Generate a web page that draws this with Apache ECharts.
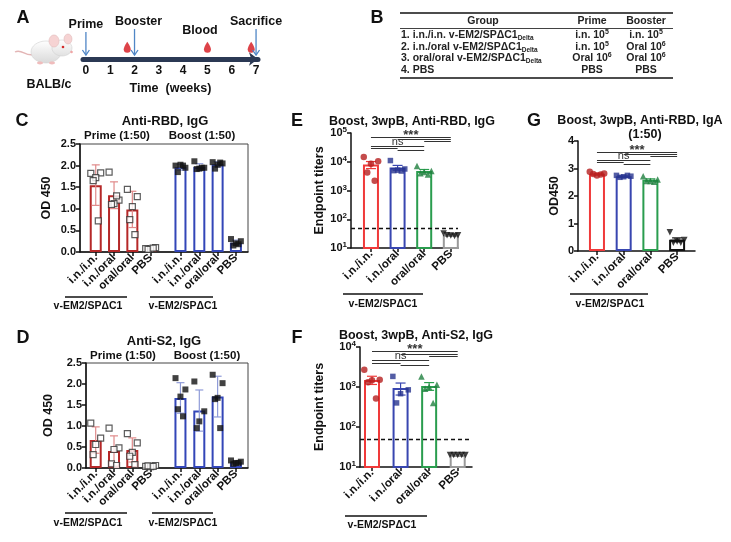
<!DOCTYPE html>
<html>
<head>
<meta charset="utf-8">
<script src="https://cdn.jsdelivr.net/npm/echarts@6/dist/echarts.min.js"></script>
<style>
html,body{margin:0;padding:0;background:#fff}
#main{width:731px;height:542px}
</style>
</head>
<body>
<div id="main"></div>
<script>
var FONT = 'Liberation Sans, Arial, sans-serif';
var INK = '#111';

// ---------- data ----------
var groupNames = ['i.n./i.n.', 'i.n./oral', 'oral/oral', 'PBS'];
var vaccineName = 'v-EM2/SP\u0394C1';

// A: schedule
var weekTicks = [0, 1, 2, 3, 4, 5, 6, 7];
var eventNames = ['Prime', 'Booster', 'Sacrifice'];
var eventWeeks = [0, 2, 7];
var bloodWeeks = [1.7, 5, 6.8];

// B: table
var tableHeader = ['Group', 'Prime', 'Booster'];
var tableGroups = ['1. i.n./i.n. v-EM2/SP\u0394C1{sub|Delta}', '2. i.n./oral v-EM2/SP\u0394C1{sub|Delta}',
                   '3. oral/oral v-EM2/SP\u0394C1{sub|Delta}', '4. PBS'];
var tablePrime = ['i.n. 10{sup|5}', 'i.n. 10{sup|5}', 'Oral 10{sup|6}', 'PBS'];
var tableBooster = ['i.n. 10{sup|5}', 'Oral 10{sup|6}', 'Oral 10{sup|6}', 'PBS'];

// C: Anti-RBD IgG, OD450 per mouse
var cPrime = [
    [1.82, 1.83, 1.72, 1.65, 0.72],
    [1.85, 1.2, 1.12, 1.1, 1.3],
    [1.45, 1.28, 1.05, 0.75, 0.4],
    [0.08, 0.1, 0.07, 0.06, 0.09]
];
var cBoost = [
    [2.0, 1.95, 2.02, 1.85, 2.0],
    [2.1, 1.95, 1.93, 1.92, 1.95],
    [2.08, 2.05, 2.02, 1.93, 2.07],
    [0.3, 0.25, 0.2, 0.15, 0.18]
];
// D: Anti-S2 IgG, OD450 per mouse
var dPrime = [
    [1.07, 0.71, 0.56, 0.32],
    [0.95, 0.48, 0.44, 0.1, 0.06],
    [0.82, 0.6, 0.37, 0.28, 0.08],
    [0.04, 0.06, 0.03, 0.05, 0.04]
];
var dBoost = [
    [2.14, 1.87, 1.7, 1.4, 1.23],
    [2.06, 1.35, 1.11, 0.95],
    [2.22, 2.02, 1.67, 1.64, 0.95],
    [0.18, 0.15, 0.12, 0.1, 0.12]
];
// E: Anti-RBD IgG endpoint titers
var eTiters = [
    [14500, 10500, 8500, 4200, 2200],
    [11000, 5600, 5100, 4900, 4750],
    [7100, 4750, 4400, 4000, 3600],
    [32, 28, 27, 28, 26]
];
// F: Anti-S2 IgG endpoint titers
var fTiters = [
    [2700, 1520, 1480, 1320, 513],
    [1840, 850, 680, 400],
    [1840, 1140, 1000, 910, 400],
    [20, 20, 20, 20, 20]
];
// G: Anti-RBD IgA OD450
var gOD = [
    [2.88, 2.82, 2.75, 2.8, 2.78],
    [2.75, 2.72, 2.7, 2.68, 2.75],
    [2.72, 2.6, 2.55, 2.55, 2.52],
    [0.68, 0.4, 0.35, 0.3, 0.3]
];
var limitOfDetection = 50;
var sigPairs = [[0, 3], [1, 3], [2, 3], [0, 2], [0, 1], [1, 2]];
var sigLabels = ['***', '', '', 'ns', '', ''];

// ---------- layout ----------
var posC = [0, 1, 2, 3, 4.63, 5.66, 6.66, 7.66];
var pos4 = [0, 1, 2, 3];
var JITTER = [-0.27, 0.27, 0, -0.14, 0.14];

function mean(a) { return a.reduce(function (s, v) { return s + v; }, 0) / a.length; }
function sd(a) {
    var m = mean(a);
    return Math.sqrt(a.reduce(function (s, v) { return s + (v - m) * (v - m); }, 0) / (a.length - 1));
}

var myChart = echarts.init(document.getElementById('main'));

var grids = [
    {left: 83, top: 20, width: 175, height: 39},     // A timeline
    {left: 80, top: 144, width: 168, height: 108, show: true, borderColor: '#444', borderWidth: 1},  // C
    {left: 86, top: 363, width: 162, height: 105, show: true, borderColor: '#444', borderWidth: 1},  // D
    {left: 351, top: 133, width: 107, height: 115},  // E
    {left: 360, top: 347, width: 112, height: 120},  // F
    {left: 578, top: 141, width: 117, height: 110}   // G
];

var labelFont = {fontFamily: FONT, fontWeight: 'bold', color: INK};

function catAxis(gi, min, max, pos, names) {
    return {
        type: 'value', gridIndex: gi, min: min, max: max,
        axisLine: {show: true, onZero: false, lineStyle: {color: INK, width: 1.5}},
        axisTick: {show: true, customValues: pos, length: 4, lineStyle: {color: INK, width: 1.5}},
        axisLabel: Object.assign({
            customValues: pos, rotate: 45, fontSize: 11.5, margin: 4,
            formatter: function (v) {
                var best = 0;
                pos.forEach(function (p, i) { if (Math.abs(p - v) < Math.abs(pos[best] - v)) best = i; });
                return names[best];
            }
        }, labelFont),
        splitLine: {show: false}
    };
}
function odAxis(gi, max, name, gap) {
    return {
        type: 'value', gridIndex: gi, min: 0, max: max, interval: max === 4 ? 1 : 0.5,
        name: name, nameLocation: 'middle', nameGap: gap,
        nameTextStyle: Object.assign({fontSize: 12.5}, labelFont),
        axisLine: {show: true, onZero: false, lineStyle: {color: INK, width: 1.5}},
        axisTick: {show: true, length: 4, lineStyle: {color: INK, width: 1.5}},
        axisLabel: Object.assign({fontSize: 11, margin: 4,
            formatter: function (v) { return max === 4 ? String(v) : v.toFixed(1); }}, labelFont),
        splitLine: {show: false}
    };
}
function logAxis(gi, max, gap) {
    return {
        type: 'log', logBase: 10, gridIndex: gi, min: 10, max: max,
        name: 'Endpoint titers', nameLocation: 'middle', nameGap: gap,
        nameTextStyle: Object.assign({fontSize: 12.5}, labelFont),
        axisLine: {show: true, onZero: false, lineStyle: {color: INK, width: 1.5}},
        axisTick: {show: true, length: 4, lineStyle: {color: INK, width: 1.5}},
        minorTick: {show: false},
        axisLabel: {
            margin: 4,
            formatter: function (v) { return '{b|10}{s|' + Math.round(Math.log10(v)) + '}'; },
            rich: {
                b: {fontFamily: FONT, fontWeight: 'bold', fontSize: 11, color: INK, lineHeight: 14},
                s: {fontFamily: FONT, fontWeight: 'bold', fontSize: 8, color: INK, verticalAlign: 'top'}
            }
        },
        splitLine: {show: false}
    };
}

var xAxes = [
    {
        type: 'value', gridIndex: 0, min: -0.12, max: 7.08,
        name: 'Time  (weeks)', nameLocation: 'middle', nameGap: 23,
        nameTextStyle: Object.assign({fontSize: 12.5}, labelFont),
        axisLine: {show: true, onZero: false, lineStyle: {color: '#2b3954', width: 5}, symbol: ['none', 'arrow'], symbolSize: [10, 9]},
        axisTick: {show: false},
        axisLabel: Object.assign({customValues: weekTicks, fontSize: 12, margin: 6}, labelFont),
        splitLine: {show: false}
    },
    catAxis(1, -0.86, 8.32, posC, groupNames.concat(groupNames)),
    catAxis(2, -0.53, 8.32, posC, groupNames.concat(groupNames)),
    catAxis(3, -0.75, 3.27, pos4, groupNames),
    catAxis(4, -0.42, 3.5, pos4, groupNames),
    catAxis(5, -0.71, 3.67, pos4, groupNames)
];
var yAxes = [
    {type: 'value', gridIndex: 0, min: 0, max: 1, show: false},
    odAxis(1, 2.5, 'OD 450', 27),
    odAxis(2, 2.5, 'OD 450', 31),
    logAxis(3, 100000, 24),
    logAxis(4, 10000, 34),
    odAxis(5, 4, 'OD450', 17)
];

var series = [];

function addPanel(ax, pos, groups, cfg) {
    series.push({
        type: 'bar', xAxisIndex: ax, yAxisIndex: ax, barWidth: cfg.barWidth, clip: true, z: 2,
        data: groups.map(function (g, i) {
            return {value: [pos[i], mean(g)], itemStyle: {color: '#fff', borderColor: cfg.barColors[i], borderWidth: 2}};
        }),
        markLine: cfg.lod ? {
            silent: true, symbol: 'none', label: {show: false},
            lineStyle: {color: INK, type: [4, 3], width: 1.3},
            data: [{yAxis: cfg.lod}]
        } : undefined
    });
    series.push({
        type: 'custom', xAxisIndex: ax, yAxisIndex: ax, z: 3,
        renderItem: function (params, api) {
            var x = api.value(0), top = api.coord([x, api.value(3)]), bot = api.coord([x, api.value(2)]);
            var c = api.visual('color'), w = cfg.cap;
            var st = {stroke: c, lineWidth: 1.2};
            return {type: 'group', children: [
                {type: 'line', shape: {x1: top[0], y1: top[1], x2: bot[0], y2: bot[1]}, style: st},
                {type: 'line', shape: {x1: top[0] - w, y1: top[1], x2: top[0] + w, y2: top[1]}, style: st},
                {type: 'line', shape: {x1: bot[0] - w, y1: bot[1], x2: bot[0] + w, y2: bot[1]}, style: st}
            ]};
        },
        data: groups.map(function (g, i) {
            var m = mean(g), e = cfg.sem ? sd(g) / Math.sqrt(g.length) : sd(g);
            return {value: [pos[i], m, m - e, m + e], itemStyle: {color: cfg.errColors[i]}};
        })
    });
    var pts = [];
    groups.forEach(function (g, i) {
        var p = cfg.points(i);
        g.forEach(function (v, k) {
            pts.push({
                value: [pos[i] + JITTER[k % JITTER.length], v],
                symbol: p.symbol, symbolRotate: p.rotate || 0, symbolSize: p.size,
                itemStyle: {color: p.fill, borderColor: p.stroke, borderWidth: p.stroke ? 1.2 : 0}
            });
        });
    });
    series.push({type: 'scatter', xAxisIndex: ax, yAxisIndex: ax, z: 4, data: pts});
    if (cfg.sig) {
        series.push({
            type: 'custom', xAxisIndex: ax, yAxisIndex: ax, z: 5,
            renderItem: function (params, api) {
                var k = api.value(3);
                var x1 = api.coord([api.value(0), cfg.yTop])[0], x2 = api.coord([api.value(2), cfg.yTop])[0];
                var y = Math.round(params.coordSys.y + cfg.sig[k]) + 0.5;
                var kids = [{type: 'line', shape: {x1: x1, y1: y, x2: x2, y2: y}, style: {stroke: '#333', lineWidth: 1}}];
                if (sigLabels[k]) {
                    kids.push({type: 'text', x: (x1 + x2) / 2, y: y + (sigLabels[k] === 'ns' ? 0.5 : 4),
                        style: {text: sigLabels[k], fontFamily: FONT, fontSize: sigLabels[k] === 'ns' ? 11 : 13,
                            fontWeight: sigLabels[k] === 'ns' ? 'normal' : 'bold', fill: '#333',
                            align: 'center', verticalAlign: 'bottom'}});
                }
                return {type: 'group', children: kids};
            },
            data: sigPairs.map(function (p, k) { return [pos[p[0]], cfg.yTop, pos[p[1]], k]; })
        });
    }
}

var odBarColors = ['#b52828', '#b52828', '#b52828', '#b52828', '#3346b8', '#3346b8', '#3346b8', '#3346b8'];
var odErrColors = ['#e08a8a', '#e08a8a', '#e08a8a', '#e08a8a', '#8f9bd8', '#8f9bd8', '#8f9bd8', '#8f9bd8'];
function odPoints(i) {
    return i < 4 ? {symbol: 'rect', size: 6, fill: '#fff', stroke: '#333'}
                 : {symbol: 'rect', size: 6, fill: INK};
}
var tBarColors = ['#f03a3a', '#3846b0', '#2a9d4e', '#9a9a9a'];
var tPtColors = ['#b51f1f', '#28348f', '#1f7f3f', INK];
function tPoints(i) {
    var sym = ['circle', 'rect', 'triangle', 'triangle'][i];
    return {symbol: sym, rotate: i === 3 ? 180 : 0, size: i === 1 ? 5.5 : 6.5, fill: tPtColors[i]};
}

addPanel(1, posC, cPrime.concat(cBoost), {barWidth: 12, cap: 4, barColors: odBarColors, errColors: odErrColors, points: odPoints});
addPanel(2, posC, dPrime.concat(dBoost), {barWidth: 12, cap: 4, barColors: odBarColors, errColors: odErrColors, points: odPoints});
addPanel(3, pos4, eTiters, {barWidth: 16, cap: 5, sem: true, barColors: tBarColors, errColors: tBarColors,
    points: tPoints, lod: limitOfDetection, yTop: 100000, sig: [4, 6, 8, 13, 15, 17]});
addPanel(4, pos4, fTiters, {barWidth: 16, cap: 5, sem: true, barColors: tBarColors, errColors: tBarColors,
    points: tPoints, lod: limitOfDetection, yTop: 10000, sig: [4, 6.5, 8.5, 12.5, 15.5, 17.5]});
addPanel(5, pos4, gOD, {barWidth: 16, cap: 5, sem: true, barColors: ['#f03a3a', '#3846b0', '#2a9d4e', INK],
    errColors: ['#f03a3a', '#3846b0', '#2a9d4e', INK], points: tPoints, yTop: 4, sig: [11, 13, 15, 19, 21, 23]});

// A: schedule arrows and blood drops
series.push({
    type: 'custom', xAxisIndex: 0, yAxisIndex: 0, z: 5,
    renderItem: function (params, api) {
        var x = api.coord([api.value(0), 0])[0], i = api.value(1);
        var yTop = params.coordSys.y + (i === 0 ? 12 : 9), yBot = params.coordSys.y + 35;
        var c = '#4f86c6';
        return {type: 'group', children: [
            {type: 'line', shape: {x1: x, y1: yTop, x2: x, y2: yBot}, style: {stroke: c, lineWidth: 1.3}},
            {type: 'polyline', shape: {points: [[x - 3.5, yBot - 5], [x, yBot], [x + 3.5, yBot - 5]]}, style: {stroke: c, lineWidth: 1.3, fill: null}},
            {type: 'text', x: x + (i === 1 ? 4 : 0), y: yTop - 7,
                style: {text: eventNames[i], fontFamily: FONT, fontWeight: 'bold', fontSize: 12.5, fill: INK, align: 'center', verticalAlign: 'middle'}}
        ]};
    },
    data: eventWeeks.map(function (w, i) { return [w, i]; })
});
series.push({
    type: 'scatter', xAxisIndex: 0, yAxisIndex: 0, z: 4,
    symbol: 'path://M5,0 C5,0 0,7 0,10.5 A5,5 0 0 0 10,10.5 C10,7 5,0 5,0 Z',
    symbolSize: [7, 11],
    itemStyle: {color: '#d4141c'},
    data: bloodWeeks.map(function (w) { return [w, 0.3]; })
});

// ---------- texts, table, mouse ----------
function txt(x, y, s, size, extra) {
    return {type: 'text', x: x, y: y, z: 10, style: Object.assign({text: s, fontFamily: FONT, fontSize: size, fontWeight: 'bold',
        fill: INK, align: 'center', verticalAlign: 'middle'}, extra || {})};
}
function ln(x1, y1, x2, y2, w) {
    return {type: 'line', z: 10, shape: {x1: x1, y1: y1, x2: x2, y2: y2}, style: {stroke: INK, lineWidth: w || 1.5}};
}

var graphics = [
    txt(23, 18, 'A', 18), txt(377, 18, 'B', 18), txt(22, 121, 'C', 18), txt(23, 338, 'D', 18),
    txt(297, 121, 'E', 18), txt(297, 338, 'F', 18), txt(534, 121, 'G', 18),
    txt(49, 85, 'BALB/c', 12.5),
    txt(200, 31, 'Blood', 12.5),
    txt(165, 121, 'Anti-RBD, IgG', 13), txt(117, 136, 'Prime (1:50)', 11.5), txt(202, 136, 'Boost (1:50)', 11.5),
    txt(164, 341, 'Anti-S2, IgG', 13), txt(123, 356, 'Prime (1:50)', 11.5), txt(207, 356, 'Boost (1:50)', 11.5),
    txt(412, 122, 'Boost, 3wpB, Anti-RBD, IgG', 12.5),
    txt(416, 336, 'Boost, 3wpB, Anti-S2, IgG', 12.5),
    txt(640, 121, 'Boost, 3wpB, Anti-RBD, IgA', 12.5), txt(645, 135, '(1:50)', 12.5),
    // group brackets
    ln(65, 297, 127, 297), txt(88, 306, vaccineName, 10.5), ln(150, 297, 213, 297), txt(183, 306, vaccineName, 10.5),
    ln(65, 513, 127, 513), txt(88, 523, vaccineName, 10.5), ln(152, 513, 213, 513), txt(183, 523, vaccineName, 10.5),
    ln(343, 294, 423, 294), txt(383, 304, vaccineName, 10.5),
    ln(345, 516, 427, 516), txt(382, 525, vaccineName, 10.5),
    ln(570, 294, 648, 294), txt(610, 304, vaccineName, 10.5),
    // table rules
    ln(400, 13, 673, 13, 1.6), ln(400, 28.5, 673, 28.5, 0.8), ln(400, 78, 673, 78, 1.6)
];

var tableRich = {
    sub: {fontFamily: FONT, fontWeight: 'bold', fontSize: 6.5, fill: '#222', verticalAlign: 'bottom'},
    sup: {fontFamily: FONT, fontWeight: 'bold', fontSize: 7, fill: '#222', verticalAlign: 'top'}
};
function cell(x, y, s, align) {
    return {type: 'text', x: x, y: y, z: 10, style: {text: s, rich: tableRich, fontFamily: FONT, fontSize: 10.5, fontWeight: 'bold',
        lineHeight: 13, fill: '#222', align: align, verticalAlign: 'middle'}};
}
graphics.push(cell(483, 21, tableHeader[0], 'center'), cell(592, 21, tableHeader[1], 'center'), cell(646, 21, tableHeader[2], 'center'));
var rowY = [35, 47, 58.5, 70];
tableGroups.forEach(function (g, i) {
    graphics.push(cell(401, rowY[i], g, 'left'));
    graphics.push(cell(592, rowY[i], tablePrime[i], 'center'));
    graphics.push(cell(646, rowY[i], tableBooster[i], 'center'));
});

// simple white mouse
graphics.push({
    type: 'group', z: 10, children: [
        {type: 'bezierCurve', shape: {x1: 35, y1: 54, cpx1: 26, cpy1: 58, cpx2: 22, cpy2: 48, x2: 15, y2: 52},
            style: {stroke: '#e3b5b5', lineWidth: 1.4, fill: null}},
        {type: 'ellipse', shape: {cx: 46, cy: 52, rx: 15, ry: 11},
            style: {fill: new echarts.graphic.LinearGradient(0, 0, 0, 1, [{offset: 0, color: '#ffffff'}, {offset: 1, color: '#d9d9d9'}]),
                stroke: '#d0d0d0', lineWidth: 0.6}},
        {type: 'ellipse', shape: {cx: 62, cy: 48, rx: 10, ry: 8},
            style: {fill: new echarts.graphic.LinearGradient(0, 0, 0, 1, [{offset: 0, color: '#ffffff'}, {offset: 1, color: '#e0e0e0'}]),
                stroke: '#d0d0d0', lineWidth: 0.6}},
        {type: 'ellipse', shape: {cx: 54, cy: 41, rx: 5, ry: 6}, style: {fill: '#f6d3d3', stroke: '#e0bcbc', lineWidth: 0.6}},
        {type: 'ellipse', shape: {cx: 68, cy: 39, rx: 4, ry: 5}, style: {fill: '#f6d3d3', stroke: '#e0bcbc', lineWidth: 0.6}},
        {type: 'circle', shape: {cx: 63, cy: 47, r: 1.3}, style: {fill: '#d42a2a'}},
        {type: 'circle', shape: {cx: 71.5, cy: 52, r: 1.3}, style: {fill: '#f0a6a6'}},
        {type: 'ellipse', shape: {cx: 52, cy: 63, rx: 3, ry: 1.4}, style: {fill: '#f0bcbc'}},
        {type: 'ellipse', shape: {cx: 40, cy: 63, rx: 3, ry: 1.4}, style: {fill: '#f0bcbc'}}
    ]
});

var option = {
    animation: false,
    backgroundColor: '#fff',
    grid: grids,
    xAxis: xAxes,
    yAxis: yAxes,
    series: series,
    graphic: graphics
};
myChart.setOption(option);
</script>
</body>
</html>
